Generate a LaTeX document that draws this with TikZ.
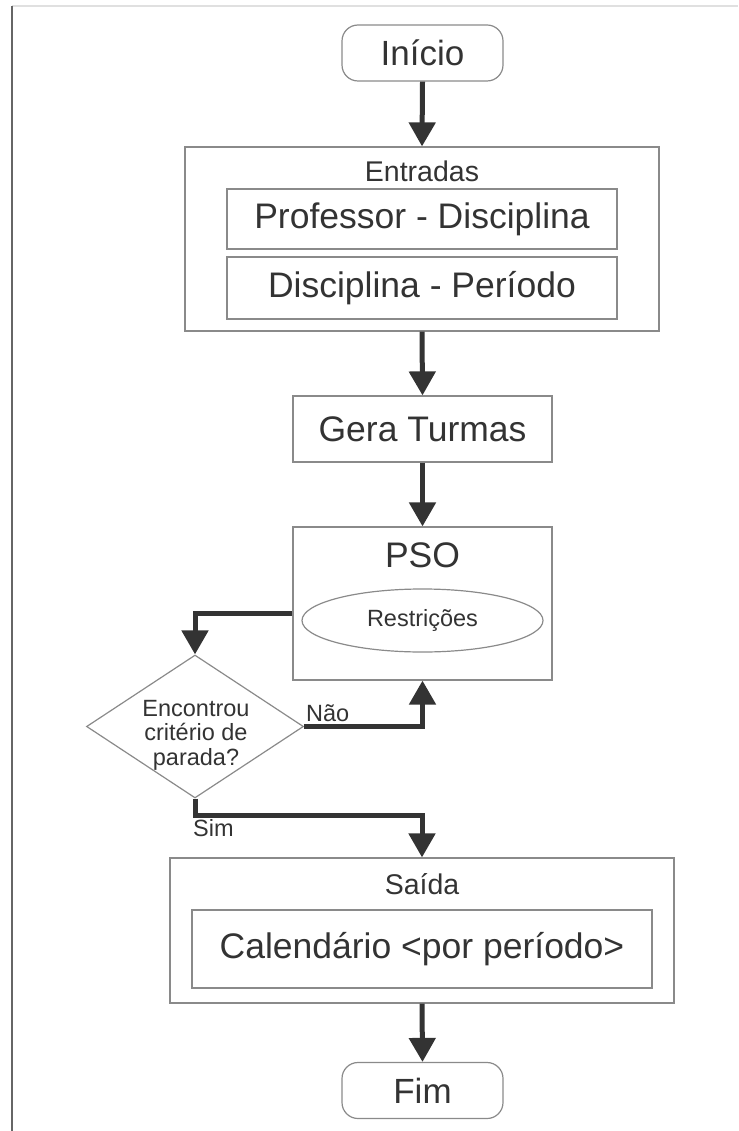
\documentclass[tikz,border=0pt]{standalone}
\usepackage{fontspec}
\setmainfont{Liberation Sans}
\usetikzlibrary{arrows.meta,shapes.geometric}
\definecolor{ink}{HTML}{333333}
\definecolor{edge}{HTML}{8A8A8A}
\newcommand{\fs}[1]{\fontsize{#1}{#1}\selectfont}
\begin{document}
\begin{tikzpicture}[x=1pt,y=-1pt,
  every node/.style={text=ink, inner sep=0pt},
  box/.style={draw=edge, line width=1.2pt, rectangle},
  term/.style={draw=edge, line width=1.2pt, rectangle, rounded corners=16pt,
     minimum width=161pt, minimum height=56pt, font=\fs{35}},
  big/.style={font=\fs{35.5}},
  mid/.style={font=\fs{28.5}},
  small/.style={font=\fs{23.5}},
  conn/.style={draw=ink, line width=5pt, -{Triangle[width=26pt,length=24pt]}}]
\useasboundingbox (0,0) rectangle (738,1131);
% page frame
\draw[color=black!12, line width=2pt] (12,6) -- (738,6);
\draw[color=black!60, line width=1.5pt] (12,6) -- (12,1131);

\node[term] (inicio) at (422.5,53) {Início};

\node[box, minimum width=474pt, minimum height=184pt] (entradas) at (422,239) {};
\node[mid] (entlbl) at (422,171) {Entradas};
\node[box, big, minimum width=390pt, minimum height=60pt] (profdisc) at (422,219) {Professor - Disciplina};
\node[box, big, minimum width=390pt, minimum height=62pt] (discper) at (422,288) {Disciplina - Período};

\node[box, big, minimum width=259pt, minimum height=66pt] (gera) at (422.5,429) {Gera Turmas};

\node[box, minimum width=259pt, minimum height=153pt] (pso) at (422.5,603.5) {};
\node[big] (psolbl) at (422.5,555) {PSO};
\node[ellipse, draw=edge, line width=1.2pt, minimum width=241pt, minimum height=63pt, small] (restr) at (422.5,620.5) {Restrições};

\node[diamond, draw=edge, line width=1.2pt, aspect=1.52,
      minimum width=217pt, minimum height=143pt] (dia) at (195,726.5) {};
\node[small, align=center, execute at begin node={\setlength{\baselineskip}{24.5pt}}]
      (dialbl) at (196,735) {Encontrou\\critério de\\parada?};

\node[box, minimum width=504pt, minimum height=145pt] (saida) at (422,930.5) {};
\node[mid] (sailbl) at (422,884) {Saída};
\node[box, big, minimum width=460pt, minimum height=78pt] (cal) at (422,949) {Calendário <por período>};

\node[term] (fim) at (422.5,1090.5) {Fim};

\node[small, anchor=south west] (nao) at (306,722) {Não};
\node[small, anchor=north west] (sim) at (193,819) {Sim};

\draw[conn] (inicio.south) -- (entradas.north);
\draw[conn] (entradas.south) -- (gera.north);
\draw[conn] (gera.south) -- (pso.north);
\draw[conn] ([yshift=-9.5pt]pso.west) -| (dia.north);
\draw[conn] (dia.east) -| (pso.south);
\draw[conn] (dia.south) -- ++(0,17) -| (saida.north);
\draw[conn] (saida.south) -- (fim.north);
\end{tikzpicture}
\end{document}
